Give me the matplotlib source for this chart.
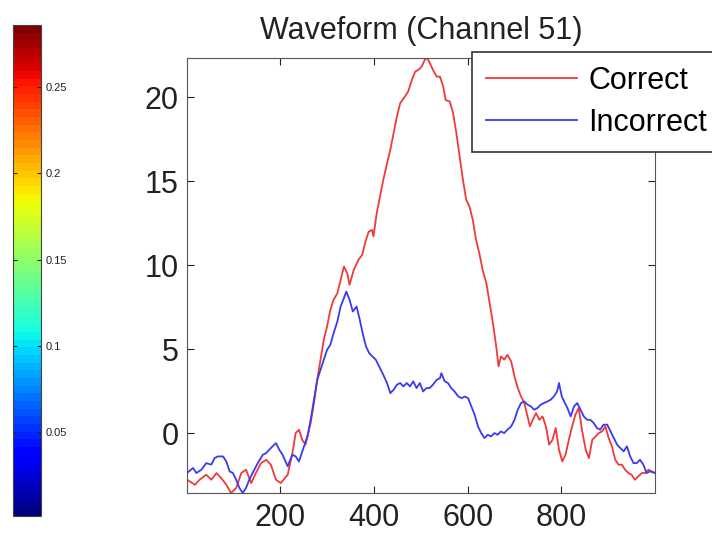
#! /usr/bin/env python3

import numpy as np
import matplotlib
matplotlib.use('Agg')
import matplotlib.pyplot as plt
from matplotlib.colors import Normalize
from matplotlib.cm import ScalarMappable

plt.rcParams['font.family'] = ['Liberation Sans', 'DejaVu Sans']

# Waveform samples
x_correct = [1, 18, 28, 42, 53, 64, 74, 85, 95, 106, 117, 127, 138, 148, 159, 170,
             180, 191, 201, 216, 226, 233, 240, 247, 254, 265, 272, 279, 286, 293,
             300, 307, 314, 322, 329, 336, 343, 348, 357, 367, 375, 382, 389, 396,
             399, 406, 413, 420, 428, 435, 442, 449, 456, 466, 473, 481, 488, 495,
             502, 509, 514, 519, 526, 534, 541, 548, 553, 562, 569, 576, 583, 590,
             597, 604, 611, 618, 625, 632, 640, 647, 654, 661, 666, 671, 678, 685,
             693, 700, 707, 714, 721, 728, 733, 739, 746, 753, 760, 767, 774, 781,
             788, 795, 802, 809, 816, 823, 830, 837, 844, 852, 859, 866, 873, 880,
             887, 894, 901, 908, 915, 922, 929, 936, 943, 950, 957, 964, 972, 979,
             986, 1000]
y_correct = [-2.78, -3.08, -2.78, -2.48, -2.78, -2.38, -2.68, -3.08, -3.57, -3.27,
             -2.38, -2.18, -2.98, -2.38, -1.79, -1.59, -1.88, -2.78, -2.98, -2.48,
             -1.19, 0.0, 0.2, -0.4, -0.69, 0.6, 1.79, 3.17, 4.37, 5.56,
             6.35, 7.34, 7.94, 8.33, 9.13, 9.92, 9.52, 8.83, 9.72, 10.32,
             10.62, 11.41, 12.0, 12.1, 11.71, 13.1, 14.09, 15.08, 16.07, 16.87,
             17.86, 18.85, 19.64, 20.04, 20.34, 21.03, 21.53, 21.63, 21.83, 22.26,
             22.32, 22.06, 21.63, 21.23, 21.23, 20.63, 19.84, 19.74, 19.05, 17.86,
             16.47, 15.08, 13.89, 13.49, 12.7, 11.51, 10.71, 9.72, 8.93, 7.74,
             6.55, 5.16, 3.97, 4.56, 4.37, 4.66, 4.27, 3.37, 2.68, 2.18,
             1.79, 0.99, 0.4, 0.79, 1.19, 0.79, 0.99, 0.4, -0.69, -0.4,
             0.3, -0.99, -1.69, -1.29, -0.4, 0.4, 1.09, 1.49, 0.2, -0.99,
             -1.49, -0.4, -0.2, 0.0, 0.1, 0.4, -0.3, -0.79, -1.59, -1.88,
             -1.88, -2.18, -2.38, -2.48, -2.78, -2.58, -2.38, -2.38, -2.18, -2.38]

x_incorrect = [1, 14, 21, 32, 42, 53, 60, 67, 78, 85, 92, 99, 106, 113, 120, 127,
               134, 141, 152, 163, 170, 180, 191, 198, 205, 216, 226, 233, 240, 251,
               258, 265, 272, 279, 286, 293, 300, 307, 314, 322, 329, 336, 341, 348,
               355, 363, 369, 376, 383, 390, 397, 404, 413, 420, 428, 435, 442, 449,
               456, 463, 470, 477, 484, 491, 498, 505, 512, 519, 526, 534, 541, 544,
               551, 558, 565, 572, 580, 587, 594, 601, 608, 615, 622, 629, 636, 643,
               650, 657, 664, 671, 678, 685, 693, 700, 707, 714, 721, 728, 735, 742,
               749, 756, 763, 770, 777, 784, 791, 795, 801, 806, 813, 820, 827, 834,
               841, 848, 855, 862, 869, 876, 883, 890, 898, 905, 912, 919, 926, 933,
               940, 947, 954, 961, 968, 975, 982, 989, 1000]
y_incorrect = [-2.38, -2.08, -2.38, -2.18, -1.79, -1.88, -1.49, -1.39, -1.39, -1.69,
               -2.28, -2.38, -2.78, -3.27, -3.57, -3.27, -2.78, -2.38, -1.79, -1.29,
               -1.19, -0.89, -0.6, -0.99, -1.29, -1.98, -1.29, -1.39, -1.69, -0.79,
               -0.2, 0.79, 1.98, 3.17, 3.77, 4.37, 4.96, 5.26, 5.95, 6.65,
               7.54, 8.04, 8.43, 7.94, 7.24, 7.54, 6.85, 5.95, 5.16, 4.76,
               4.56, 4.37, 3.87, 3.47, 2.98, 2.38, 2.58, 2.88, 2.98, 2.78,
               2.98, 2.78, 3.08, 2.68, 2.98, 2.48, 2.68, 2.68, 2.88, 3.17,
               3.27, 3.57, 3.08, 2.98, 2.68, 2.48, 2.18, 2.08, 2.18, 2.08,
               1.59, 1.09, 0.4, 0.0, -0.3, -0.1, -0.2, 0.0, -0.1, 0.1,
               0.0, 0.2, 0.4, 0.79, 1.39, 1.79, 1.88, 1.69, 1.59, 1.39,
               1.49, 1.69, 1.79, 1.88, 1.98, 2.18, 2.48, 2.98, 2.18, 1.88,
               1.49, 0.99, 1.59, 1.79, 1.39, 0.99, 0.79, 0.79, 0.6, 0.3,
               0.2, 0.5, 0.5, 0.1, -0.3, -0.69, -0.89, -1.09, -0.79, -1.39,
               -1.79, -1.79, -1.59, -1.88, -2.38, -2.28, -2.38]

x_ticks = [200, 400, 600, 800]
y_ticks = [0, 5, 10, 15, 20]
cbar_ticks = [0.05, 0.1, 0.15, 0.2, 0.25]
cbar_min, cbar_max = 0.0013, 0.286


def plot_waveform():
    fig = plt.figure(figsize=(7.12, 5.36), dpi=100)

    # colorbar at the far left
    cax = fig.add_axes([0.0183, 0.0373, 0.0393, 0.916])
    sm = ScalarMappable(norm=Normalize(cbar_min, cbar_max), cmap=plt.get_cmap('jet', 64))
    cb = fig.colorbar(sm, cax=cax, ticks=cbar_ticks)
    cb.ax.set_yticklabels(['0.05', '0.1', '0.15', '0.2', '0.25'])
    cb.ax.tick_params(direction='in', left=True, right=True, length=3,
                      labelsize=8, colors='#222222', pad=3)
    cb.outline.set_edgecolor('#444444')

    ax = fig.add_axes([0.2626, 0.0802, 0.6574, 0.8116])
    ax.plot(x_correct, y_correct, color='#f03a3a', lw=1.3, label='Correct')
    ax.plot(x_incorrect, y_incorrect, color='#3a3af0', lw=1.3, label='Incorrect')
    ax.set_xlim(1, 1000)
    ax.set_ylim(-3.57, 22.34)
    ax.set_xticks(x_ticks)
    ax.set_yticks(y_ticks)
    ax.tick_params(direction='in', top=True, right=True, length=5,
                   labelsize=22, colors='#222222')
    ax.tick_params(axis='x', pad=7)
    ax.tick_params(axis='y', pad=6)
    for s in ax.spines.values():
        s.set_edgecolor('#555555')
    ax.set_title('Waveform (Channel 51)', fontsize=22, pad=14, color='#222222')

    leg = ax.legend(loc='upper left', bbox_to_anchor=(472 / 712, 1 - 52 / 536),
                    bbox_transform=fig.transFigure, borderaxespad=0,
                    fontsize=22, handlelength=3.0, handletextpad=0.35,
                    labelspacing=0.4, borderpad=0.45, fancybox=False,
                    framealpha=1, edgecolor='#333333')
    leg.get_frame().set_linewidth(1.2)

    fig.savefig('out.png', dpi=100)


if __name__ == '__main__':
    plot_waveform()
